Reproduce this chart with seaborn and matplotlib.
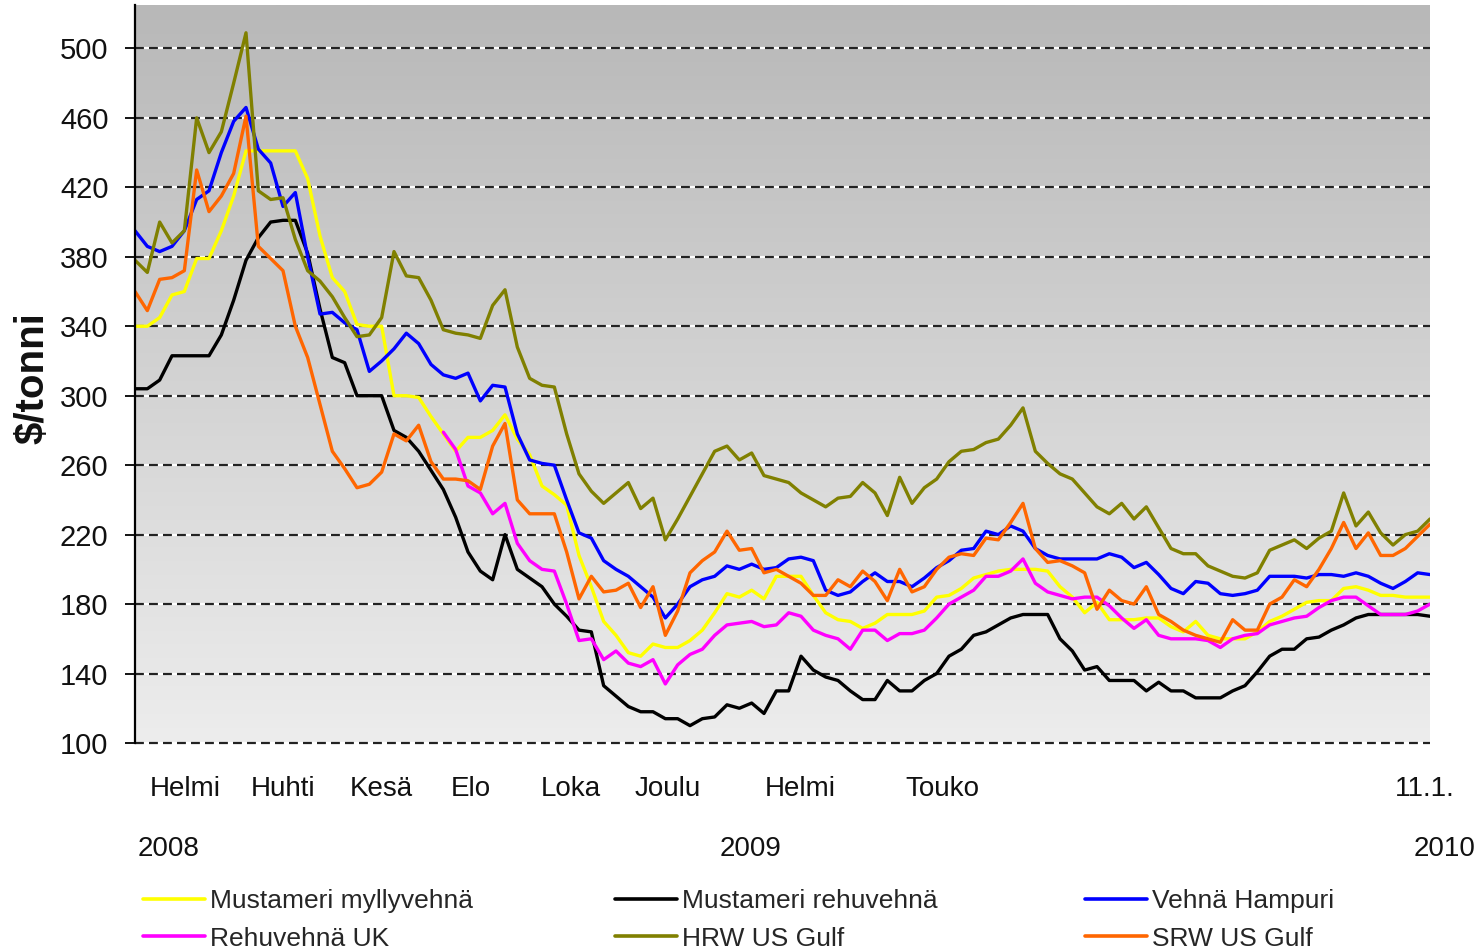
import numpy as np
import pandas as pd
import matplotlib
matplotlib.use("Agg")
import matplotlib.pyplot as plt
import seaborn as sns
from matplotlib.colors import LinearSegmentedColormap
from matplotlib.lines import Line2D

sns.set_theme(style="white")
plt.rcParams["font.family"] = ["Liberation Sans", "DejaVu Sans"]

# ---------------- data ----------------
series_names = ["Mustameri myllyvehnä", "Mustameri rehuvehnä", "Vehnä Hampuri",
                "Rehuvehnä UK", "HRW US Gulf", "SRW US Gulf"]
series_colors = ["#FFFF00", "#000000", "#0000FF", "#FF00FF", "#808000", "#FF6600"]

month_labels = ["Helmi", "Huhti", "Kesä", "Elo", "Loka", "Joulu", "Helmi", "Touko", "11.1."]
year_labels = ["2008", "2009", "2010"]

myllyvehna = [340, 340, 345, 358, 360, 379, 379, 395, 415, 441,
              441, 441, 441, 441, 425, 392, 368, 360, 341, 340,
              340, 300, 300, 299, 288, 278, 268, 276, 276, 280,
              289, 275, 266, 248, 243, 237, 208, 190, 170, 162,
              152, 150, 157, 155, 155, 159, 165, 175, 186, 184,
              188, 183, 196, 196, 196, 185, 175, 171, 170, 166,
              169, 174, 174, 174, 176, 184, 185, 189, 195, 197,
              199, 200, 200, 200, 199, 190, 184, 175, 181, 171,
              171, 171, 172, 172, 167, 164, 170, 162, 160, 160,
              160, 164, 170, 173, 177, 181, 182, 182, 189, 190,
              188, 185, 185, 184, 184, 184]

rehuvehna = [304, 304, 309, 323, 323, 323, 323, 335, 355, 378,
             391, 400, 401, 401, 382, 350, 322, 319, 300, 300,
             300, 280, 276, 268, 257, 246, 230, 210, 199, 194,
             220, 200, 195, 190, 180, 173, 165, 164, 133, 127,
             121, 118, 118, 114, 114, 110, 114, 115, 122, 120,
             123, 117, 130, 130, 150, 142, 138, 136, 130, 125,
             125, 136, 130, 130, 136, 140, 150, 154, 162, 164,
             168, 172, 174, 174, 174, 160, 153, 142, 144, 136,
             136, 136, 130, 135, 130, 130, 126, 126, 126, 130,
             133, 141, 150, 154, 154, 160, 161, 165, 168, 172,
             174, 174, 174, 174, 174, 173]

hampuri = [395, 386, 383, 386, 395, 413, 418, 440, 458, 466,
           442, 434, 409, 417, 380, 347, 348, 342, 338, 314,
           320, 327, 336, 330, 318, 312, 310, 313, 297, 306,
           305, 278, 263, 261, 260, 240, 221, 218, 205, 200,
           196, 190, 184, 172, 180, 190, 194, 196, 202, 200,
           203, 200, 201, 206, 207, 205, 188, 185, 187, 193,
           198, 193, 193, 190, 195, 201, 205, 211, 212, 222,
           220, 225, 222, 212, 208, 206, 206, 206, 206, 209,
           207, 201, 204, 197, 189, 186, 193, 192, 186, 185,
           186, 188, 196, 196, 196, 195, 197, 197, 196, 198,
           196, 192, 189, 193, 198, 197]

rehuvehna_uk = [np.nan] * 25 + [
    279, 269, 248, 244, 232,
    238, 215, 205, 200, 199, 180, 159, 160, 148, 153,
    146, 144, 148, 134, 145, 151, 154, 162, 168, 169,
    170, 167, 168, 175, 173, 165, 162, 160, 154, 165,
    165, 159, 163, 163, 165, 172, 180, 184, 188, 196,
    196, 199, 206, 192, 187, 185, 183, 184, 184, 179,
    172, 166, 171, 162, 160, 160, 160, 159, 155, 160,
    162, 163, 168, 170, 172, 173, 178, 182, 184, 184,
    179, 174, 174, 174, 176, 180]

hrw_gulf = [378, 371, 400, 388, 395, 460, 440, 452, 480, 509,
            418, 413, 414, 390, 372, 366, 357, 345, 334, 335,
            345, 383, 369, 368, 355, 338, 336, 335, 333, 352,
            361, 328, 310, 306, 305, 278, 255, 245, 238, 244,
            250, 235, 241, 217, 229, 242, 255, 268, 271, 263,
            267, 254, 252, 250, 244, 240, 236, 241, 242, 250,
            244, 231, 253, 238, 247, 252, 262, 268, 269, 273,
            275, 283, 293, 268, 261, 255, 252, 244, 236, 232,
            238, 229, 236, 224, 212, 209, 209, 202, 199, 196,
            195, 198, 211, 214, 217, 212, 218, 222, 244, 225,
            233, 221, 214, 220, 222, 229]

srw_gulf = [360, 349, 367, 368, 372, 430, 406, 415, 428, 461,
            386, 379, 372, 340, 322, 295, 268, 258, 247, 249,
            256, 278, 274, 283, 262, 252, 252, 251, 246, 271,
            284, 240, 232, 232, 232, 210, 183, 196, 187, 188,
            192, 178, 190, 162, 176, 198, 205, 210, 222, 211,
            212, 198, 200, 196, 192, 185, 185, 194, 190, 199,
            193, 182, 200, 187, 190, 200, 207, 209, 208, 218,
            217, 227, 238, 212, 204, 205, 202, 198, 177, 188,
            182, 180, 190, 174, 170, 165, 162, 160, 158, 171,
            165, 165, 180, 184, 194, 190, 200, 212, 227, 212,
            221, 208, 208, 212, 219, 226]

weeks = list(range(len(myllyvehna)))
y_ticks = list(range(100, 501, 40))

# ---------------- layout ----------------
W, H = 1480, 952
month_pos = [4.06, 12.0, 20.0, 27.2, 35.3, 43.2, 53.9, 65.5, 104.6]
year_pos = [2.7, 49.9, 106.2]

all_series = [myllyvehna, rehuvehna, hampuri, rehuvehna_uk, hrw_gulf, srw_gulf]
df = pd.concat([pd.DataFrame({"week": weeks, "price": vals, "series": name})
                for name, vals in zip(series_names, all_series)], ignore_index=True)

fig = plt.figure(figsize=(W / 100, H / 100), dpi=100)
fig.patch.set_facecolor("white")
ax = fig.add_axes([135 / W, 1 - 743 / H, (1430 - 135) / W, (743 - 5) / H])

x0, x1 = weeks[0], weeks[-1]
y0, y1 = 100, 525

# gradient background
cmap = LinearSegmentedColormap.from_list("bg", ["#b8b8b8", "#ededed"])
grad = np.linspace(0, 1, 256).reshape(-1, 1)
ax.imshow(grad, extent=(x0, x1, y0, y1), origin="upper", aspect="auto",
          cmap=cmap, zorder=0, interpolation="bilinear")

# grid lines: white base + black dashes
for yv in y_ticks:
    ax.axhline(yv, color="white", lw=1.6, zorder=1, clip_on=False)
    ax.axhline(yv, color="#222222", lw=1.6, ls=(0, (4, 2.3)), zorder=1.5, clip_on=False)

sns.lineplot(data=df, x="week", y="price", hue="series", hue_order=series_names,
             palette=dict(zip(series_names, series_colors)), estimator=None,
             linewidth=2.4, legend=False, ax=ax, zorder=3)

ax.set_xlim(x0, x1)
ax.set_ylim(y0, y1)
ax.set_xlabel("")
ax.set_ylabel("")

ax.set_yticks(y_ticks)
ax.set_yticklabels([str(v) for v in y_ticks])
ax.tick_params(axis="y", direction="out", length=7, width=1.3, color="black",
               labelsize=21, pad=12, left=True, labelcolor="#111111")
ax.set_xticks(month_pos)
ax.set_xticklabels(month_labels)
ax.tick_params(axis="x", length=0, labelsize=20, pad=24, labelcolor="#111111")

for side in ["top", "right", "bottom"]:
    ax.spines[side].set_visible(False)
ax.spines["left"].set_color("black")
ax.spines["left"].set_linewidth(1.6)
ax.spines["left"].set_zorder(4)

for pos, lab in zip(year_pos, year_labels):
    ax.annotate(lab, xy=(pos, 0), xycoords=("data", "axes fraction"),
                xytext=(0, -106 * 0.72), textcoords="offset points",
                ha="center", va="center", fontsize=20, color="#111111",
                annotation_clip=False)

fig.text(33 / W, 1 - 378 / H, r"\$/tonni", rotation=90, fontsize=29,
         fontweight="bold", ha="center", va="center", color="#111111")

# legend: three columns of two rows
cols = [(0, 3), (1, 4), (2, 5)]
col_x = [143, 615, 1085]
for (a, b), cx in zip(cols, col_x):
    handles = [Line2D([], [], color=series_colors[k], lw=2.6) for k in (a, b)]
    labels = [series_names[k] for k in (a, b)]
    fig.legend(handles, labels, loc="center left",
               bbox_to_anchor=(cx / W, 1 - 920 / H), frameon=False,
               fontsize=19, handlelength=2.35, handletextpad=0.2,
               labelspacing=0.5, borderpad=0, borderaxespad=0)

fig.savefig("out.png", dpi=100, facecolor="white")
